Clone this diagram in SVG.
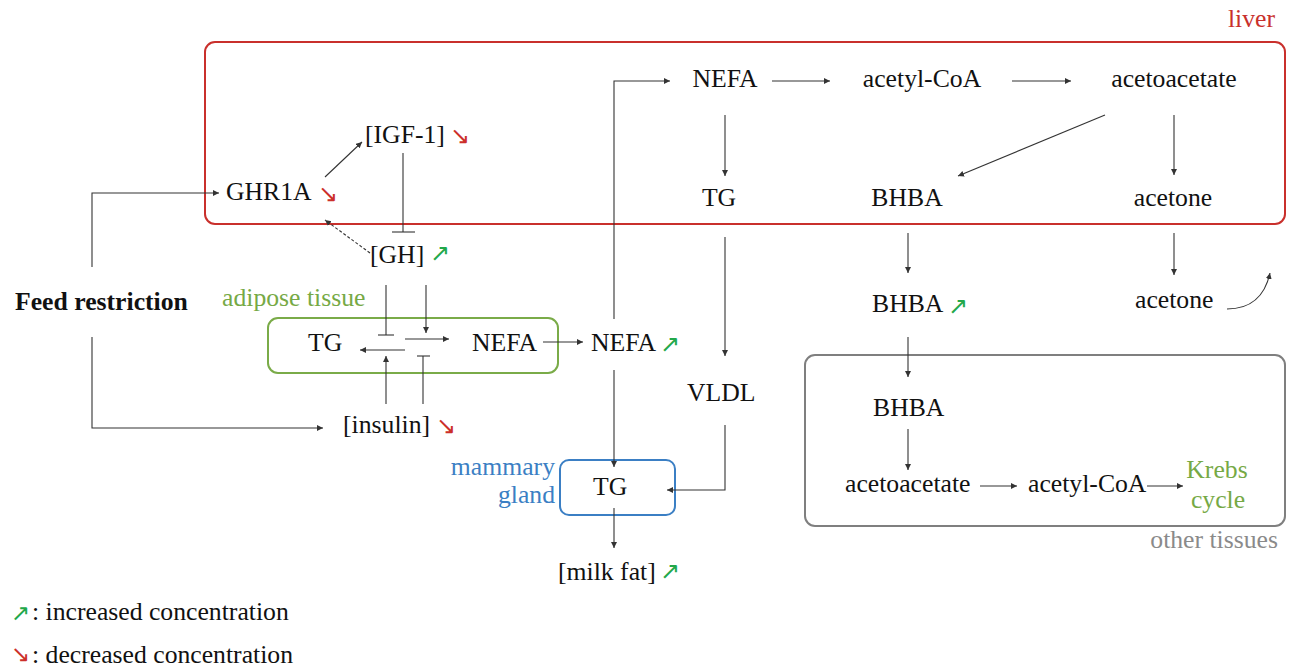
<svg xmlns="http://www.w3.org/2000/svg" width="1290" height="669" viewBox="0 0 1290 669">
<style>
text{font-family:"Liberation Serif","Times New Roman",serif;font-size:25.7px;fill:#111}
.b{font-weight:bold}
.sym{font-family:"DejaVu Sans",sans-serif;font-size:24px}
.lg{font-size:23px}
.up{fill:#22a84a}
.dn{fill:#cc2f2a}
.red{fill:#c9302c}
.grn{fill:#76a945}
.blu{fill:#3b7fc4}
.gry{fill:#8a8a8a}
.c{fill:none;stroke:#333;stroke-width:1.1}
.box{fill:none;stroke-width:2}
</style>
<defs>
<marker id="ah" markerUnits="userSpaceOnUse" markerWidth="7" markerHeight="7" refX="6" refY="3" orient="auto">
<path d="M0,0 L6,3 L0,6 z" fill="#333"/>
</marker>
</defs>
<g id="liver">
<rect class="box" x="205" y="42" width="1080" height="182" rx="10" stroke="#c9302c"/>
<text class="red" x="1275" y="27" text-anchor="end">liver</text>
</g>
<g id="adipose">
<rect class="box" x="268" y="318" width="290" height="55" rx="10" stroke="#7aab48"/>
<text class="grn" x="222" y="306">adipose tissue</text>
</g>
<g id="mammary">
<rect class="box" x="560" y="460" width="115" height="55" rx="9" stroke="#3b7fc4"/>
<text class="blu" x="555" y="475" text-anchor="end">mammary</text>
<text class="blu" x="555" y="503" text-anchor="end">gland</text>
</g>
<g id="other">
<rect class="box" x="805" y="355" width="480" height="171" rx="10" stroke="#7f7f7f"/>
<text class="gry" x="1278" y="548" text-anchor="end">other tissues</text>
</g>
<g id="n-nefa-liver"><text x="725" y="87" text-anchor="middle">NEFA</text></g>
<g id="n-acetylcoa-liver"><text x="922" y="87" text-anchor="middle">acetyl-CoA</text></g>
<g id="n-acetoacetate-liver"><text x="1174" y="87" text-anchor="middle">acetoacetate</text></g>
<g id="n-tg-liver"><text x="719" y="206" text-anchor="middle">TG</text></g>
<g id="n-bhba-liver"><text x="907" y="206" text-anchor="middle">BHBA</text></g>
<g id="n-acetone-liver"><text x="1173" y="206" text-anchor="middle">acetone</text></g>
<g id="n-ghr1a"><text x="226" y="200">GHR1A</text><text class="sym dn" x="318" y="202">↘</text></g>
<g id="n-igf1"><text x="365" y="143">[IGF-1]</text><text class="sym dn" x="450" y="144">↘</text></g>
<g id="n-gh"><text x="370" y="263">[GH]</text><text class="sym up" x="430" y="261">↗</text></g>
<g id="n-feed"><text class="b" x="15" y="310">Feed restriction</text></g>
<g id="n-tg-adipose"><text x="308" y="351">TG</text></g>
<g id="n-nefa-adipose"><text x="472" y="351">NEFA</text></g>
<g id="n-nefa-blood"><text x="591" y="351">NEFA</text><text class="sym up" x="660" y="352">↗</text></g>
<g id="n-insulin"><text x="343" y="433">[insulin]</text><text class="sym dn" x="436" y="434">↘</text></g>
<g id="n-vldl"><text x="687" y="401">VLDL</text></g>
<g id="n-tg-mammary"><text x="593" y="495">TG</text></g>
<g id="n-milkfat"><text x="558" y="580">[milk fat]</text><text class="sym up" x="660" y="579">↗</text></g>
<g id="n-bhba-blood"><text x="872" y="312">BHBA</text><text class="sym up" x="948" y="314">↗</text></g>
<g id="n-acetone-blood"><text x="1135" y="308">acetone</text></g>
<g id="n-bhba-tissue"><text x="873" y="416">BHBA</text></g>
<g id="n-acetoacetate-tissue"><text x="845" y="492">acetoacetate</text></g>
<g id="n-acetylcoa-tissue"><text x="1028" y="492">acetyl-CoA</text></g>
<g id="n-krebs"><text class="grn" x="1217" y="478" text-anchor="middle">Krebs</text><text class="grn" x="1218" y="508" text-anchor="middle">cycle</text></g>
<g id="legend">
<text class="sym lg up" x="11" y="621">↗</text><text x="32" y="620">: increased concentration</text>
<text class="sym lg dn" x="11" y="662">↘</text><text x="32" y="663">: decreased concentration</text>
</g>
<g id="connectors">
<polyline class="c" points="92,267 92,193 219,193" marker-end="url(#ah)"/>
<polyline class="c" points="92,337 92,428 323,428" marker-end="url(#ah)"/>
<line class="c" x1="325" y1="177" x2="362" y2="142" marker-end="url(#ah)"/>
<line class="c" x1="403" y1="153" x2="403" y2="232"/>
<line class="c" x1="392" y1="232" x2="415" y2="232"/>
<line class="c" x1="370" y1="253" x2="325" y2="220" stroke-dasharray="3,2" marker-end="url(#ah)"/>
<line class="c" x1="386" y1="285" x2="386" y2="335"/>
<line class="c" x1="378" y1="335" x2="394" y2="335"/>
<line class="c" x1="426" y1="285" x2="426" y2="333" marker-end="url(#ah)"/>
<line class="c" x1="405" y1="339" x2="449" y2="339" stroke-width="2.2" marker-end="url(#ah)"/>
<line class="c" x1="405" y1="350" x2="360" y2="350" marker-end="url(#ah)"/>
<line class="c" x1="386" y1="404" x2="386" y2="356" marker-end="url(#ah)"/>
<line class="c" x1="423" y1="404" x2="423" y2="356"/>
<line class="c" x1="417" y1="356" x2="430" y2="356"/>
<line class="c" x1="543" y1="342" x2="583" y2="342" marker-end="url(#ah)"/>
<polyline class="c" points="614,319 614,81 670,81" marker-end="url(#ah)"/>
<line class="c" x1="614" y1="370" x2="614" y2="467" marker-end="url(#ah)"/>
<line class="c" x1="772" y1="81" x2="830" y2="81" marker-end="url(#ah)"/>
<line class="c" x1="1012" y1="81" x2="1071" y2="81" marker-end="url(#ah)"/>
<line class="c" x1="725" y1="115" x2="725" y2="176" marker-end="url(#ah)"/>
<line class="c" x1="1105" y1="115" x2="958" y2="176" marker-end="url(#ah)"/>
<line class="c" x1="1174" y1="115" x2="1174" y2="175" marker-end="url(#ah)"/>
<line class="c" x1="725" y1="237" x2="725" y2="356" marker-end="url(#ah)"/>
<polyline class="c" points="725,425 725,490 667,490" marker-end="url(#ah)"/>
<line class="c" x1="614" y1="508" x2="614" y2="548" marker-end="url(#ah)"/>
<line class="c" x1="908" y1="233" x2="908" y2="273" marker-end="url(#ah)"/>
<line class="c" x1="1174" y1="233" x2="1174" y2="275" marker-end="url(#ah)"/>
<path class="c" d="M1227,309 Q1262,309 1270,273" marker-end="url(#ah)"/>
<line class="c" x1="908" y1="337" x2="908" y2="377" marker-end="url(#ah)"/>
<line class="c" x1="908" y1="429" x2="908" y2="470" marker-end="url(#ah)"/>
<line class="c" x1="980" y1="486" x2="1017" y2="486" marker-end="url(#ah)"/>
<line class="c" x1="1147" y1="486" x2="1183" y2="486" marker-end="url(#ah)"/>
</g>
</svg>
